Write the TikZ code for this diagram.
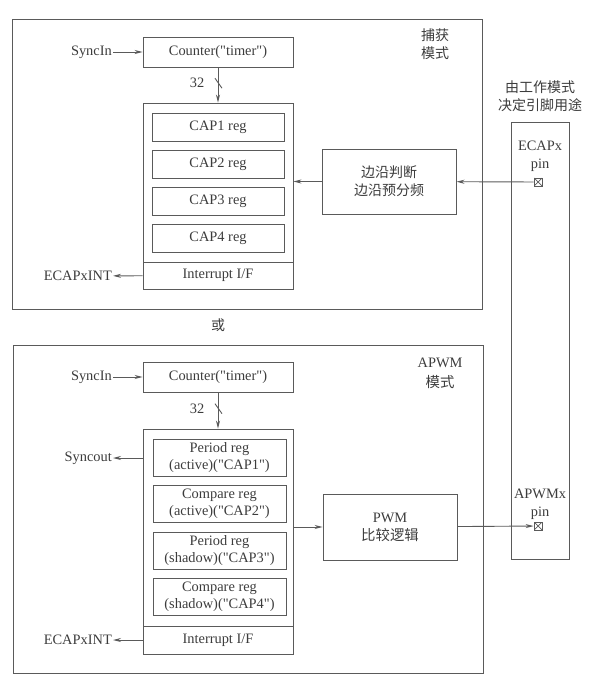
\documentclass[tikz,border=0pt]{standalone}
\usepackage{fontspec}
\setmainfont{Liberation Serif}[Ligatures=TeXOff]
\newfontfamily\cjk{Noto Sans CJK SC}
\usepackage{xcolor}
\usepackage{tikz}
\usetikzlibrary{arrows.meta,positioning,calc}
\definecolor{linegray}{HTML}{5A5A5A}
\definecolor{textgray}{HTML}{3C3C3C}

\begin{document}
\begin{tikzpicture}[x=1pt,y=-1pt,
  every node/.style={text=textgray,font=\fontsize{14.4}{17}\selectfont},
  box/.style={draw=linegray,line width=0.9pt,minimum width=150pt,minimum height=30pt,
    inner sep=0pt,align=center},
  regbox/.style={box,minimum width=132pt,minimum height=28pt},
  modebox/.style={draw=linegray,line width=0.9pt,inner sep=0pt},
  lbl/.style={inner sep=1pt,align=center},
  cn/.style={font=\cjk\fontsize{14}{18}\selectfont},
  pinx/.style={draw=linegray,line width=0.8pt,minimum size=8pt,inner sep=0pt,
    path picture={\draw[linegray,line width=0.7pt]
      (path picture bounding box.south west) -- (path picture bounding box.north east)
      (path picture bounding box.north west) -- (path picture bounding box.south east);}},
  arr/.style={-{Stealth[length=8pt,width=4pt]},line width=0.9pt,linegray}
]
\useasboundingbox (0,0) rectangle (590,692);

\node[modebox,minimum width=470pt,minimum height=290pt] (capmode) at (247,164) {};
\node[lbl,cn] (capname) at (435,44) {捕获\\模式};
\node[box] (cnt1) at (218,52) {Counter("timer")};
\node[lbl,anchor=east] (syncin1) at (113,52) {SyncIn};
\node[box,minimum height=159pt] (bank1) at (218,182.5) {};
\node[box,minimum height=27pt] (int1) at (218,275.5) {Interrupt I/F};
\foreach \i in {1,...,4}
  \node[regbox] (cap\i) at (218,{127+37.2*(\i-1)}) {CAP\i\ reg};
\node[lbl,anchor=east] (ecapint1) at (113,276) {ECAPxINT};
\node[box,cn,minimum width=134pt,minimum height=65pt] (edge) at (389,181.5)
  {边沿判断\\边沿预分频};

\node[modebox,minimum width=58pt,minimum height=437pt] (pincol) at (540,340.5) {};
\node[lbl,cn] (pinhint) at (540,96) {由工作模式\\决定引脚用途};
\node[lbl] (ecappin) at (540,156) {ECAPx\\[1pt]pin};
\node[pinx] (pin1) at (538,182) {};

\draw[arr] (syncin1) -- (cnt1);
\draw[arr] (cnt1) -- coordinate[pos=.45] (bus1) node[pos=.45,left=10pt] {32} (bank1);
\draw[linegray,line width=0.9pt] (bus1) +(-3,-5) -- +(4,5);
\draw[arr] (int1) -- (ecapint1);
\draw[arr] (pin1) -- (edge);
\draw[arr] (edge) -- (bank1.east |- edge.west);

\node[cn] (ortext) at (218,325) {或};

\node[modebox,minimum width=470pt,minimum height=328pt] (pwmmode) at (248,509) {};
\node[lbl] (pwmname) at (440,373) {APWM\\[3pt]{\cjk 模式}};
\node[box] (cnt2) at (218,377) {Counter("timer")};
\node[lbl,anchor=east] (syncin2) at (113,377) {SyncIn};
\node[box,minimum height=197pt] (bank2) at (218,527.5) {};
\node[box,minimum height=28pt] (int2) at (218,640) {Interrupt I/F};
\foreach \kind/\state [count=\i] in {Period/active,Compare/active,Period/shadow,Compare/shadow}
  \node[regbox,minimum width=133pt,minimum height=37pt] (reg\i) at (219.5,{457.5+46.5*(\i-1)})
    {\kind\ reg\\(\state)("CAP\i")};
\node[lbl,anchor=east] (syncout) at (113,458) {Syncout};
\node[lbl,anchor=east] (ecapint2) at (113,640) {ECAPxINT};
\node[box,minimum width=134pt,minimum height=66pt] (pwm) at (390,527)
  {PWM\\[1pt]{\cjk 比较逻辑}};
\node[lbl] (apwmpin) at (540,504) {APWMx\\[1pt]pin};
\node[pinx] (pin2) at (538,526) {};

\draw[arr] (syncin2) -- (cnt2);
\draw[arr] (cnt2) -- coordinate[pos=.45] (bus2) node[pos=.45,left=10pt] {32} (bank2);
\draw[linegray,line width=0.9pt] (bus2) +(-3,-5) -- +(4,5);
\draw[arr] (bank2.west |- syncout) -- (syncout);
\draw[arr] (int2) -- (ecapint2);
\draw[arr] (bank2.east |- pwm.west) -- (pwm);
\draw[arr] (pwm) -- (pin2);
\end{tikzpicture}
\end{document}
